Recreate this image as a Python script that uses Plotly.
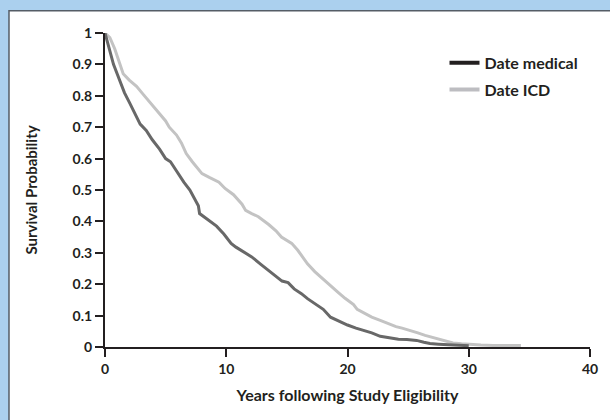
import plotly.graph_objects as go

# Data
t_medical = [0, 0.3, 0.7, 1.0, 1.2, 1.6, 2.0, 2.4, 2.9, 3.4, 3.9, 4.5, 5.0, 5.4, 5.9, 6.5,
             7.0, 7.5, 7.7, 7.8, 8.3, 8.8, 9.2, 9.8, 10.4, 10.8, 11.5, 12.1, 12.8, 13.5,
             14.0, 14.6, 15.1, 15.6, 16.2, 16.7, 17.4, 18.0, 18.6, 19.4, 20.0, 20.7, 21.4,
             22.0, 22.7, 23.5, 24.2, 24.9, 25.7, 26.3, 26.8, 27.5, 28.2, 29.0, 30.0]
s_medical = [1.0, 0.96, 0.90, 0.87, 0.85, 0.81, 0.78, 0.75, 0.71, 0.69, 0.66, 0.63, 0.60,
             0.59, 0.56, 0.525, 0.50, 0.467, 0.45, 0.425, 0.41, 0.395, 0.385, 0.36, 0.33,
             0.318, 0.30, 0.287, 0.265, 0.245, 0.228, 0.21, 0.205, 0.185, 0.17, 0.154,
             0.135, 0.12, 0.095, 0.08, 0.07, 0.06, 0.053, 0.045, 0.034, 0.03, 0.025, 0.024,
             0.021, 0.015, 0.011, 0.009, 0.007, 0.005, 0.004]

t_icd = [0, 0.4, 0.8, 1.2, 1.5, 2.0, 2.6, 3.1, 3.7, 4.3, 5.0, 5.3, 5.9, 6.3, 6.7, 7.2, 7.7,
         8.0, 8.6, 9.4, 9.9, 10.6, 11.3, 11.6, 12.1, 12.65, 13.5, 14.1, 14.55, 15.0, 15.4,
         15.9, 16.3, 16.7, 17.3, 18.0, 18.6, 19.2, 19.8, 20.5, 20.8, 21.5, 22.0, 22.7, 23.3,
         24.0, 24.5, 25.2, 25.8, 26.4, 27.3, 28.0, 28.7, 29.4, 30.1, 31.0, 32.0, 33.0, 34.3]
s_icd = [1.0, 0.985, 0.95, 0.90, 0.87, 0.85, 0.83, 0.807, 0.78, 0.755, 0.72, 0.70, 0.675,
         0.65, 0.616, 0.59, 0.568, 0.552, 0.54, 0.525, 0.505, 0.485, 0.455, 0.435, 0.425,
         0.415, 0.39, 0.37, 0.35, 0.34, 0.33, 0.308, 0.285, 0.265, 0.24, 0.215, 0.195,
         0.175, 0.155, 0.135, 0.12, 0.105, 0.095, 0.085, 0.075, 0.065, 0.06, 0.053, 0.045,
         0.037, 0.027, 0.02, 0.013, 0.01, 0.008, 0.006, 0.005, 0.005, 0.005]

series_names = ["Date medical", "Date ICD"]
x_ticks = [0, 10, 20, 30, 40]
y_ticks = [0, 0.1, 0.2, 0.3, 0.4, 0.5, 0.6, 0.7, 0.8, 0.9, 1]
y_tick_labels = ["0", "0.1", "0.2", "0.3", "0.4", "0.5", "0.6", "0.7", "0.8", "0.9", "1"]

FONT = "Lato"
TXT = "#231f20"

fig = go.Figure()
# curves
fig.add_trace(go.Scatter(x=t_icd, y=s_icd, mode="lines", showlegend=False,
                         line=dict(color="#c3c3c3", width=3), hoverinfo="skip"))
fig.add_trace(go.Scatter(x=t_medical, y=s_medical, mode="lines", showlegend=False,
                         line=dict(color="#686868", width=3), hoverinfo="skip"))
# legend entries
fig.add_trace(go.Scatter(x=[None], y=[None], mode="lines", name=series_names[0],
                         legendgroup="a", line=dict(color="#231f20", width=4)))
fig.add_trace(go.Scatter(x=[None], y=[None], mode="lines", name=series_names[1],
                         legendgroup="b", line=dict(color="#bdbdc1", width=4)))

fig.update_layout(
    width=610, height=420,
    margin=dict(l=105, r=15, t=33, b=73, pad=0),
    paper_bgcolor="#abd0ee",
    plot_bgcolor="rgba(0,0,0,0)",
    font=dict(family=FONT, color=TXT, size=14),
    showlegend=True,
    legend=dict(x=0.70, y=0.959, xanchor="left", yanchor="top",
                bgcolor="rgba(0,0,0,0)", tracegroupgap=3,
                font=dict(family=FONT, size=16, color=TXT, weight="bold")),
    shapes=[dict(type="rect", xref="paper", yref="paper",
                 x0=(8 - 105) / 490, x1=(640 - 105) / 490,
                 y0=(346.7 - 440) / 314, y1=(346.7 - 10.5) / 314,
                 fillcolor="white", line=dict(color="#555d66", width=1.5),
                 layer="below")],
)

fig.update_xaxes(range=[0, 40], tickvals=x_ticks, ticks="outside", ticklen=8,
                 tickcolor=TXT, tickwidth=1.5, showline=True, linecolor=TXT,
                 linewidth=2, showgrid=False, zeroline=False,
                 tickfont=dict(family=FONT, size=14, color=TXT, weight="bold"),
                 title=dict(text="Years following Study Eligibility", standoff=14,
                            font=dict(family=FONT, size=16, color=TXT, weight="bold")))
fig.update_yaxes(range=[0, 1], tickvals=y_ticks, ticktext=y_tick_labels,
                 ticks="outside", ticklen=8, tickcolor=TXT, tickwidth=1.5,
                 showline=True, linecolor=TXT, linewidth=2, showgrid=False,
                 zeroline=False,
                 tickfont=dict(family=FONT, size=14, color=TXT, weight="bold"),
                 title=dict(text="Survival Probability", standoff=31,
                            font=dict(family=FONT, size=15, color=TXT, weight="bold")))

fig.write_html("out.html", config={"displayModeBar": False},
               post_script="document.body.style.margin='0';document.body.style.padding='0';")
